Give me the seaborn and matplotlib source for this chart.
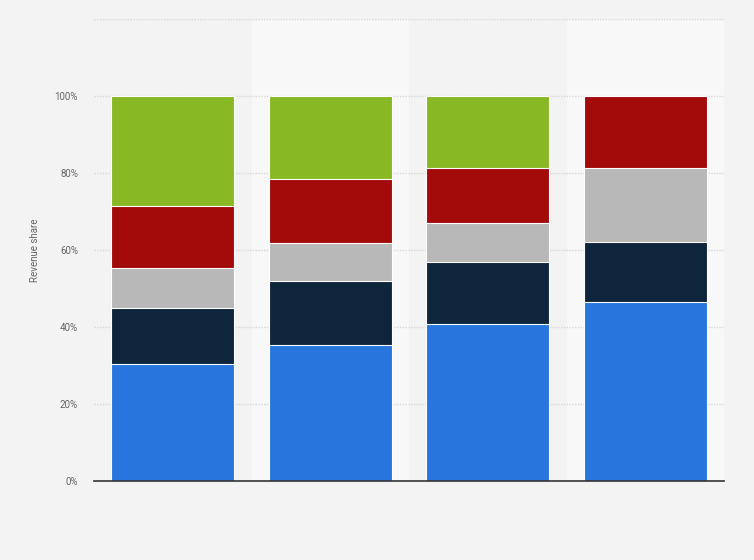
import matplotlib
matplotlib.use("Agg")
import matplotlib.pyplot as plt
import seaborn as sns
import numpy as np
import pandas as pd

# Data (revenue share in %, per bar, stacked bottom -> top)
categories = ["A", "B", "C", "D"]
series_names = ["Series 1", "Series 2", "Series 3", "Series 4", "Series 5"]
s1_blue = [30.4, 35.3, 40.8, 46.6]
s2_navy = [14.6, 16.6, 16.0, 15.4]
s3_gray = [10.2, 10.0, 10.1, 19.2]
s4_red = [16.2, 16.5, 14.3, 18.8]
s5_green = [28.6, 21.6, 18.8, 0.0]
ytick_values = [0, 20, 40, 60, 80, 100, 120]
ytick_labels = ["0%", "20%", "40%", "60%", "80%", "100%", ""]

colors = ["#2876dd", "#0f253c", "#b8b8b8", "#a30a0a", "#88b924"]

sns.set_theme(style="white")
plt.rcParams["font.family"] = ["Roboto", "DejaVu Sans"]

fig = plt.figure(figsize=(7.54, 5.6), dpi=100)
fig.patch.set_facecolor("#f3f3f3")
ax = fig.add_axes([94 / 754, (560 - 481) / 560, 630 / 754, (481 - 19) / 560])
ax.set_facecolor("#f3f3f3")

# alternating column bands
for i in range(len(categories)):
    ax.axvspan(i - 0.5, i + 0.5, color="#f3f3f3" if i % 2 == 0 else "#f8f8f8",
               zorder=0, lw=0)

# gridlines
for y in ytick_values[1:]:
    ax.axhline(y, color="#d9d9d9", lw=1.0, ls=(0, (1, 1)), zorder=1)

series = [s1_blue, s2_navy, s3_gray, s4_red, s5_green]
cum = np.cumsum(np.array(series), axis=0)
rows = []
for k, name in enumerate(series_names):
    for j, c in enumerate(categories):
        rows.append({"cat": c, "series": name, "top": cum[k, j], "val": series[k][j]})
df = pd.DataFrame(rows)

# draw from top layer to bottom so each lower layer covers the rest
for k in range(len(series_names) - 1, -1, -1):
    sub = df[df["series"] == series_names[k]].copy()
    sub.loc[sub["val"] <= 0, "top"] = 0
    sns.barplot(data=sub, x="cat", y="top", order=categories, color=colors[k],
                saturation=1, width=0.78, edgecolor="white", linewidth=0.8,
                ax=ax, zorder=2)

ax.set_xlim(-0.5, len(categories) - 0.5)
ax.set_ylim(0, 120)
ax.set_yticks(ytick_values)
ax.set_yticklabels(ytick_labels, fontsize=7, color="#666666")
ax.tick_params(axis="y", length=0, pad=11.5)
ax.set_xticks([])
ax.set_xlabel("")
ax.set_ylabel("Revenue share", fontsize=7, color="#666666")
ax.yaxis.set_label_coords((40 - 94) / 630, 0.5)
for s in ["top", "right", "left"]:
    ax.spines[s].set_visible(False)
ax.spines["bottom"].set_color("#333333")
ax.spines["bottom"].set_linewidth(1.2)
ax.spines["bottom"].set_zorder(5)

fig.savefig("out.png", dpi=100, facecolor=fig.get_facecolor())
